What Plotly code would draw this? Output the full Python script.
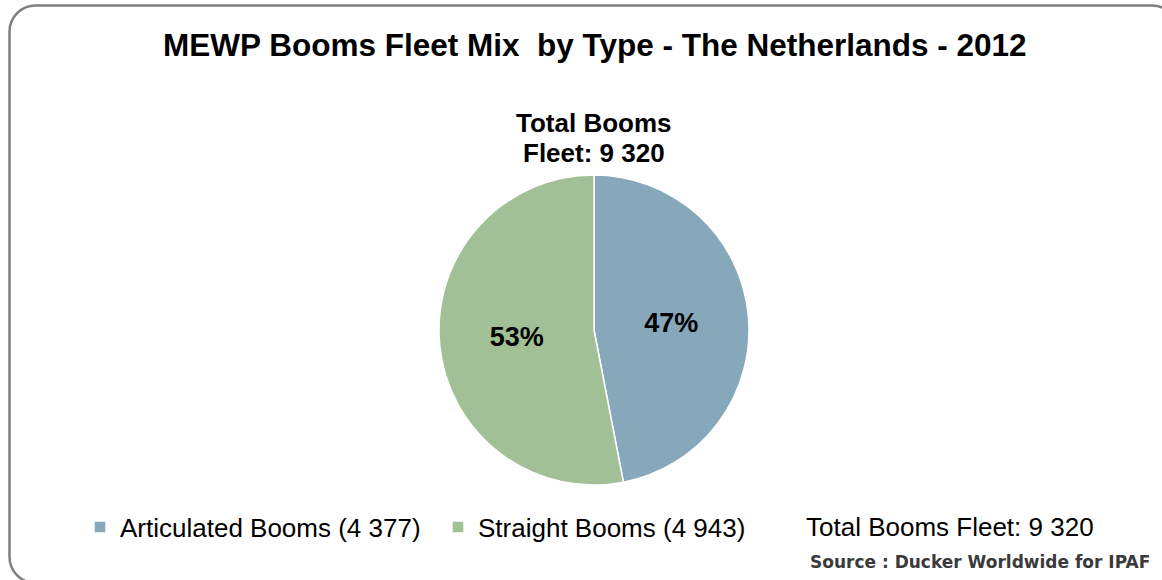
import plotly.graph_objects as go

W, H = 1162, 580

categories = ["Articulated Booms", "Straight Booms"]
values = [4377, 4943]
colors = ["#87A7BA", "#A2C096"]
title_text = "MEWP Booms Fleet Mix\u00a0 by Type - The Netherlands - 2012"
center_line1 = "Total Booms"
center_line2_prefix = "Fleet: "
total_label_prefix = "Total Booms Fleet: "
source_text = "Source : Ducker Worldwide for IPAF"

total = sum(values)

def fmt(n):
    return f"{n:,}".replace(",", " ")

legend_labels = [f"{c} ({fmt(v)})" for c, v in zip(categories, values)]

def px(x):
    return x / W

def py(y):
    return 1 - y / H

fig = go.Figure()
fig.add_trace(go.Pie(
    labels=legend_labels,
    values=values,
    marker=dict(colors=colors, line=dict(color="white", width=1.5)),
    sort=False,
    direction="clockwise",
    rotation=0,
    texttemplate="%{percent:.0%}",
    textposition="inside",
    insidetextorientation="horizontal",
    textfont=dict(family="Liberation Sans", size=27, color="black", weight="bold"),
    domain=dict(x=[px(439), px(749)], y=[py(485), py(175)]),
    hoverinfo="label+value+percent",
))

# rounded frame
L, T, R, B, r = 9.5, 5.5, 1178, 583, 26
k = 0.45
path = (
    f"M {px(L)} {py(T + r)} "
    f"C {px(L)} {py(T + r*k)} {px(L + r*k)} {py(T)} {px(L + r)} {py(T)} "
    f"L {px(R - r)} {py(T)} "
    f"C {px(R - r*k)} {py(T)} {px(R)} {py(T + r*k)} {px(R)} {py(T + r)} "
    f"L {px(R)} {py(B - r)} "
    f"C {px(R)} {py(B - r*k)} {px(R - r*k)} {py(B)} {px(R - r)} {py(B)} "
    f"L {px(L + r)} {py(B)} "
    f"C {px(L + r*k)} {py(B)} {px(L)} {py(B - r*k)} {px(L)} {py(B - r)} Z"
)

fig.update_layout(
    width=W, height=H,
    margin=dict(l=0, r=0, t=0, b=0),
    paper_bgcolor="white",
    plot_bgcolor="white",
    font=dict(family="Liberation Sans", color="black"),
    showlegend=True,
    legend=dict(
        orientation="h",
        x=px(80), y=py(527), xanchor="left", yanchor="middle",
        font=dict(family="Liberation Sans", size=26, color="black"),
        entrywidth=313, entrywidthmode="pixels",
        itemwidth=30,
        bgcolor="rgba(0,0,0,0)",
    ),
    shapes=[dict(type="path", xref="paper", yref="paper", path=path,
                 line=dict(color="#7F7F7F", width=2.5), fillcolor="rgba(0,0,0,0)", layer="below")],
    annotations=[
        dict(text=f"<b>{title_text}</b>", x=px(595), y=py(45), xref="paper", yref="paper",
             showarrow=False, font=dict(family="Liberation Sans", size=31.5, color="black"),
             xanchor="center", yanchor="middle"),
        dict(text=f"<b>{center_line1}</b>", x=px(594), y=py(123), xref="paper", yref="paper",
             showarrow=False, font=dict(family="Liberation Sans", size=26, color="black"),
             xanchor="center", yanchor="middle"),
        dict(text=f"<b>{center_line2_prefix}{fmt(total)}</b>", x=px(594), y=py(153), xref="paper", yref="paper",
             showarrow=False, font=dict(family="Liberation Sans", size=26, color="black"),
             xanchor="center", yanchor="middle"),
        dict(text=f"{total_label_prefix}{fmt(total)}", x=px(804), y=py(527), xref="paper", yref="paper",
             showarrow=False, font=dict(family="Liberation Sans", size=26, color="black"),
             xanchor="left", yanchor="middle"),
        dict(text=f"<b>{source_text}</b>", x=px(1152), y=py(562), xref="paper", yref="paper",
             showarrow=False, font=dict(family="DejaVu Sans", size=17, color="#3A3A3A"),
             xanchor="right", yanchor="middle"),
    ],
)

fig.write_html("out.html", config={"displayModeBar": False},
               post_script="document.body.style.margin='0';document.body.style.overflow='hidden';")
